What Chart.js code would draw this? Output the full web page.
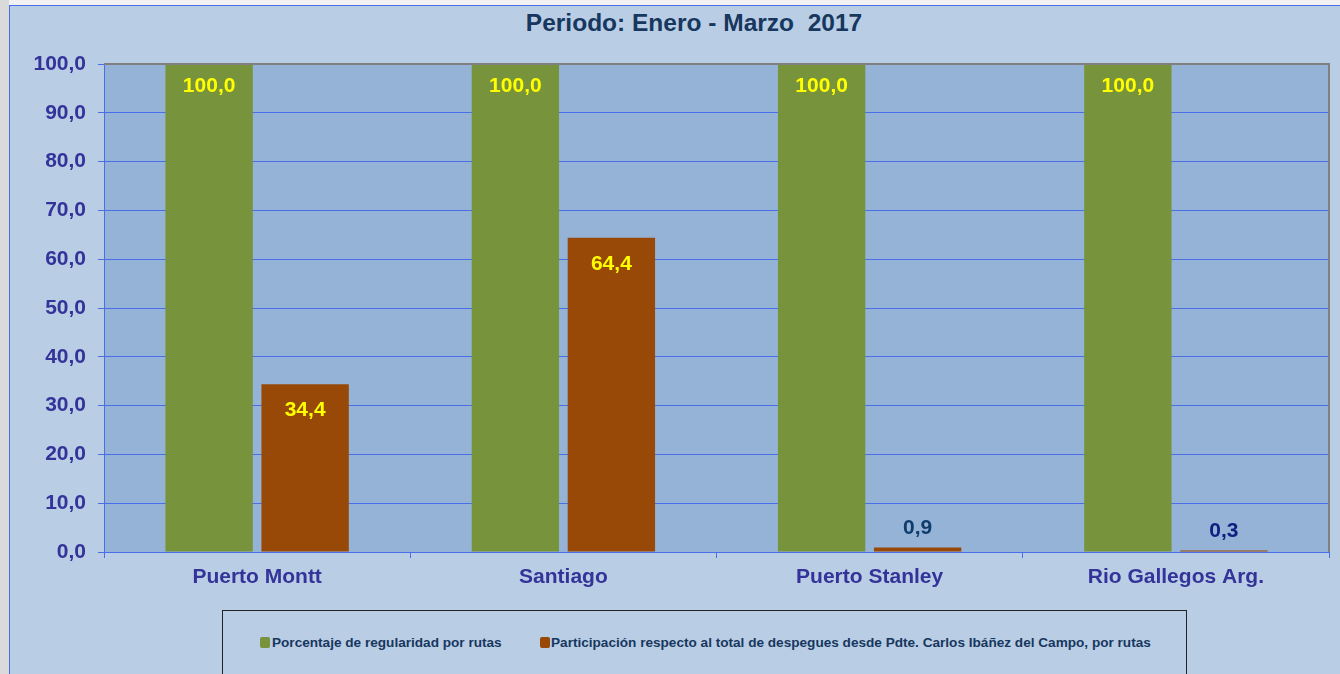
<!DOCTYPE html>
<html>
<head>
<meta charset="utf-8">
<script src="https://cdn.jsdelivr.net/npm/chart.js@4/dist/chart.umd.min.js"></script>
<style>
  html, body { margin:0; padding:0; background:#f2f2f2; width:1340px; height:674px; overflow:hidden; font-family:"Liberation Sans", Arial, sans-serif; }
  #strip { position:absolute; left:0; top:0; width:9px; height:674px; background:#dadada; }
  #frame { position:absolute; left:9px; top:5px; width:1331px; height:669px; background:#b9cde5; border-left:1px solid #4a6ee8; border-top:1px solid #4a6ee8; box-sizing:border-box; }
  #title { position:absolute; left:694px; top:11px; transform:translateX(-50%); font-weight:bold; font-size:24.5px; line-height:1; color:#17375e; white-space:nowrap; }
  #legend { position:absolute; left:222px; top:610px; width:965px; height:80px; border:1px solid #222; box-sizing:border-box; }
  .sw { position:absolute; width:10px; height:11px; border-radius:2px; }
  .lt { position:absolute; font-weight:bold; font-size:13.6px; line-height:1; color:#17375e; white-space:nowrap; }
  canvas { position:absolute; left:0; top:0; }
</style>
</head>
<body>
<div id="strip"></div>
<div id="frame"></div>
<div id="title">Periodo: Enero - Marzo&nbsp; 2017</div>
<div id="legend"></div>
<canvas id="c" width="1340" height="674"></canvas>
<script>
// ---- data ----
const categories = ["Puerto Montt", "Santiago", "Puerto Stanley", "Rio Gallegos Arg."];
const seriesNames = [
  "Porcentaje de regularidad por rutas",
  "Participación respecto al total de despegues desde Pdte. Carlos Ibáñez del Campo, por rutas"
];
const regularidad = [100.0, 100.0, 100.0, 100.0];
const participacion = [34.4, 64.4, 0.9, 0.3];
const yTicks = [0, 10, 20, 30, 40, 50, 60, 70, 80, 90, 100];

// ---- styles ----
const seriesColors = ["#77933c", "#984807"];
const smallLabelColors = [["#1b3d6a","#1b3d6a","#1b3d6a","#1b3d6a"], ["#1b3d6a","#1b3d6a","#0f3d6b","#0d1f80"]];
const axisBlue = "#4a6ee8";
const tickText = "#333399";
const FONT = '"Liberation Sans", Arial, sans-serif';

// HTML legend
const legend = document.getElementById('legend');
const legendPos = [[37, 49], [317, 328]];
seriesNames.forEach((n, i) => {
  const sw = document.createElement('div');
  sw.className = 'sw'; sw.style.background = seriesColors[i];
  sw.style.left = (legendPos[i][0]) + 'px'; sw.style.top = '26px';
  legend.appendChild(sw);
  const t = document.createElement('div');
  t.className = 'lt'; t.textContent = n;
  t.style.left = legendPos[i][1] + 'px'; t.style.top = '25px';
  legend.appendChild(t);
});

const fmt = v => Number(v).toFixed(1).replace('.', ',');

const plotBg = {
  id: 'plotBg',
  beforeDraw(chart) {
    const {ctx, chartArea: a} = chart;
    ctx.save();
    ctx.fillStyle = '#95b3d7';
    ctx.fillRect(a.left, a.top, a.right - a.left, a.bottom - a.top);
    ctx.restore();
  },
  afterDraw(chart) {
    const {ctx, chartArea: a} = chart;
    ctx.save();
    ctx.strokeStyle = '#808080';
    ctx.lineWidth = 2;
    ctx.beginPath();
    ctx.moveTo(a.left, a.top); ctx.lineTo(a.right, a.top); ctx.lineTo(a.right, a.bottom);
    ctx.stroke();
    ctx.restore();
  }
};

const valueLabels = {
  id: 'valueLabels',
  afterDatasetsDraw(chart) {
    const ctx = chart.ctx;
    ctx.save();
    ctx.font = 'bold 21px ' + FONT;
    ctx.textAlign = 'center';
    ctx.textBaseline = 'middle';
    chart.data.datasets.forEach((ds, di) => {
      chart.getDatasetMeta(di).data.forEach((bar, i) => {
        const v = ds.data[i];
        if (v >= 5) {
          ctx.fillStyle = '#ffff00';
          ctx.fillText(fmt(v), bar.x, bar.y + (v >= 99 ? 22 : 26));
        } else {
          ctx.fillStyle = smallLabelColors[di][i];
          ctx.fillText(fmt(v), bar.x, bar.y - 19);
        }
      });
    });
    ctx.restore();
  }
};

new Chart(document.getElementById('c'), {
  type: 'bar',
  data: {
    labels: categories,
    datasets: [
      { label: seriesNames[0], data: regularidad, backgroundColor: seriesColors[0], borderWidth: 0 },
      { label: seriesNames[1], data: participacion, backgroundColor: seriesColors[1], borderWidth: 0 }
    ]
  },
  options: {
    responsive: false,
    devicePixelRatio: 1,
    animation: false,
    layout: { padding: { top: 64, right: 11, left: 0, bottom: 0 } },
    datasets: { bar: { categoryPercentage: 0.627, barPercentage: 0.91 } },
    plugins: { legend: { display: false }, title: { display: false }, tooltip: { enabled: false } },
    scales: {
      x: {
        afterFit(s) { s.height = 122; },
        grid: { display: true, drawOnChartArea: false, drawTicks: true, tickLength: 6, color: axisBlue, tickColor: axisBlue, offset: true },
        border: { display: true, color: axisBlue, width: 1 },
        ticks: { color: tickText, font: { family: FONT, size: 21, weight: 'bold' }, padding: 7, maxRotation: 0 }
      },
      y: {
        min: 0, max: 100,
        afterFit(s) { s.width = 104; },
        afterBuildTicks(s) { s.ticks = yTicks.map(v => ({ value: v })); },
        grid: {
          color: c => (c.tick && c.tick.value === 100) ? '#808080' : axisBlue,
          tickColor: axisBlue, tickLength: 6, lineWidth: 1
        },
        border: { display: true, color: axisBlue, width: 1 },
        ticks: { color: tickText, font: { family: FONT, size: 21, weight: 'bold' }, padding: 12, callback: v => fmt(v) }
      }
    }
  },
  plugins: [plotBg, valueLabels]
});
</script>
</body>
</html>
